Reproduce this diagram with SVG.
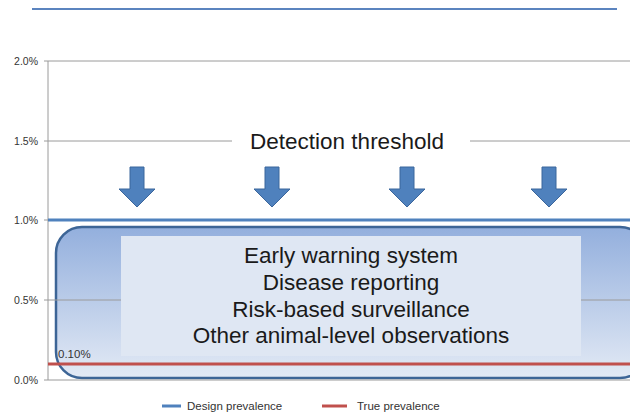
<svg xmlns="http://www.w3.org/2000/svg" width="630" height="412" viewBox="0 0 630 412">
<defs>
<linearGradient id="g" x1="0" y1="0" x2="0" y2="1">
<stop offset="0" stop-color="#93afdd"/>
<stop offset="1" stop-color="#e3eaf5"/>
</linearGradient>
<path id="arr" d="M-7,0 H7 V22 H18 L0,40 L-18,22 H-7 Z"/>
</defs>
<style>
.ax{font-family:"Liberation Sans",Arial,sans-serif;font-size:10.5px;fill:#333}
.grid{stroke:#9a9a9a;stroke-width:1}
.big{font-family:"Liberation Sans",Arial,sans-serif;font-size:22.5px;fill:#1a1a1a;text-anchor:middle}
.arrow{fill:#4f81bd;stroke:#3b669c;stroke-width:1}
.leg{font-family:"Liberation Sans",Arial,sans-serif;font-size:11.5px;fill:#333}
</style>
<rect width="630" height="412" fill="#ffffff"/>
<line x1="32" y1="9" x2="617" y2="9" stroke="#5b84bf" stroke-width="2"/>
<g id="axis">
<line class="grid" x1="48" y1="61" x2="48" y2="380" stroke="#888"/>
<line class="grid" x1="48" y1="61" x2="630" y2="61"/>
<line class="grid" x1="48" y1="141" x2="232" y2="141"/>
<line class="grid" x1="470" y1="141" x2="630" y2="141"/>
<line class="grid" x1="44" y1="61" x2="48" y2="61"/>
<line class="grid" x1="44" y1="141" x2="48" y2="141"/>
<line class="grid" x1="44" y1="220" x2="48" y2="220"/>
<line class="grid" x1="44" y1="300" x2="48" y2="300"/>
<line class="grid" x1="44" y1="380" x2="48" y2="380"/>
<text class="ax" x="38" y="65" text-anchor="end">2.0%</text>
<text class="ax" x="38" y="145" text-anchor="end">1.5%</text>
<text class="ax" x="38" y="224" text-anchor="end">1.0%</text>
<text class="ax" x="38" y="304" text-anchor="end">0.5%</text>
<text class="ax" x="38" y="384" text-anchor="end">0.0%</text>
</g>
<g id="threshold-label">
<text class="big" x="347" y="149">Detection threshold</text>
</g>
<g id="arrows">
<use href="#arr" class="arrow" x="137" y="167"/>
<use href="#arr" class="arrow" x="272" y="167"/>
<use href="#arr" class="arrow" x="407" y="167"/>
<use href="#arr" class="arrow" x="549" y="167"/>
</g>
<g id="design-line">
<line x1="48" y1="220" x2="630" y2="220" stroke="#4f81bd" stroke-width="3"/>
</g>
<g id="surveillance-box">
<rect x="56" y="227" width="590" height="151" rx="26" ry="26" fill="url(#g)" stroke="#3d6596" stroke-width="2.5"/>
<rect x="121" y="236" width="460" height="120" fill="#dfe7f3"/>
<text class="big" x="351" y="263">Early warning system</text>
<text class="big" x="351" y="290">Disease reporting</text>
<text class="big" x="351" y="317">Risk-based surveillance</text>
<text class="big" x="351" y="343">Other animal-level observations</text>
</g>
<line class="grid" x1="48" y1="300" x2="121" y2="300"/>
<line class="grid" x1="581" y1="300" x2="630" y2="300"/>
<line class="grid" x1="48" y1="380" x2="630" y2="380"/>
<g id="true-line">
<line x1="48" y1="364" x2="630" y2="364" stroke="#c0504d" stroke-width="3"/>
<text class="ax" x="58" y="358" style="font-size:11.5px">0.10%</text>
</g>
<g id="legend">
<line x1="162" y1="406" x2="181" y2="406" stroke="#4f81bd" stroke-width="3"/>
<text class="leg" x="187" y="410">Design prevalence</text>
<line x1="322" y1="406" x2="347" y2="406" stroke="#c0504d" stroke-width="3"/>
<text class="leg" x="357" y="410">True prevalence</text>
</g>
</svg>
